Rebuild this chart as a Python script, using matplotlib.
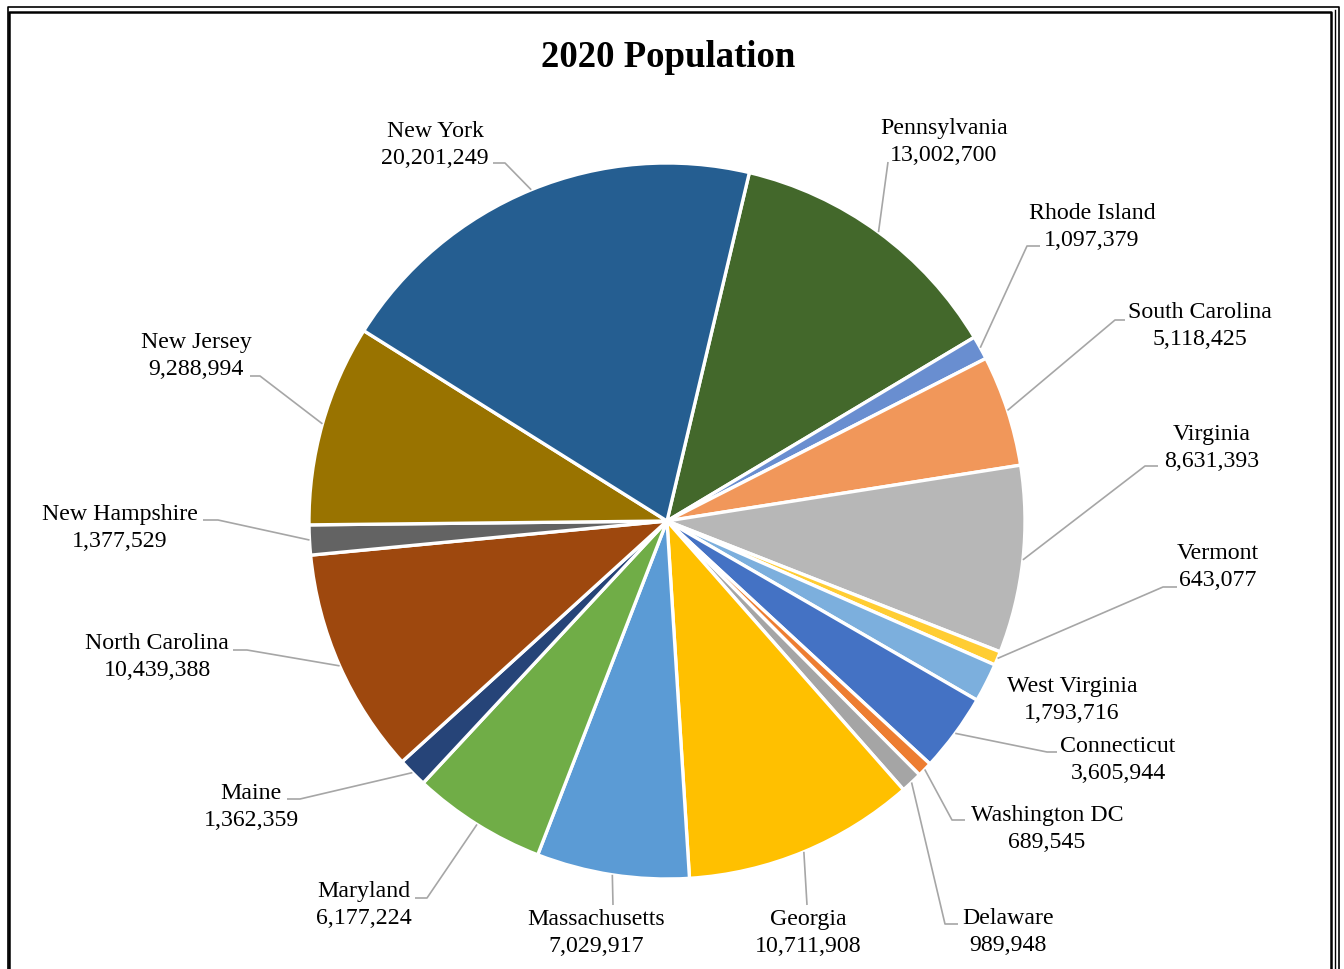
import numpy as np
import matplotlib
matplotlib.use("Agg")
import matplotlib.pyplot as plt

# data, in clockwise order starting just right of 12 o'clock
states = ["Pennsylvania", "Rhode Island", "South Carolina", "Virginia", "Vermont",
          "West Virginia", "Connecticut", "Washington DC", "Delaware", "Georgia",
          "Massachusetts", "Maryland", "Maine", "North Carolina", "New Hampshire",
          "New Jersey", "New York"]
population = [13002700, 1097379, 5118425, 8631393, 643077,
              1793716, 3605944, 689545, 989948, 10711908,
              7029917, 6177224, 1362359, 10439388, 1377529,
              9288994, 20201249]
colors = ["#43682B", "#698ED0", "#F1975A", "#B7B7B7", "#FFCD33",
          "#7CAFDD", "#4472C4", "#ED7D31", "#A5A5A5", "#FFC000",
          "#5B9BD5", "#70AD47", "#264478", "#9E480E", "#636363",
          "#997300", "#255E91"]

# label layout in pixel coords (y measured from top): text centre, leader elbow, leader end
label_pos = [(944, 142), (1092, 227), (1200, 326), (1212, 448), (1218, 567),
             (1072, 700), (1118, 760), (1047, 829), (1008, 932), (808, 933),
             (596, 933), (364, 905), (251, 807), (157, 657), (120, 528),
             (196, 356), (435, 145)]
elbows = [(888, 162), (1027, 246), (1115, 320), (1145, 466), (1163, 587),
          None, (1047, 752), (952, 820), (945, 924), (807, 905),
          (613, 905), (427, 898), (300, 799), (247, 650), (218, 520),
          (260, 376), (505, 163)]
ends = [(888, 162), (1040, 246), (1125, 320), (1158, 466), (1177, 587),
        None, (1057, 752), (965, 820), (958, 924), (807, 905),
        (613, 905), (415, 898), (287, 799), (233, 650), (203, 520),
        (250, 376), (493, 163)]

W, H = 1344, 969
FONT = ["Liberation Serif", "DejaVu Serif"]

fig = plt.figure(figsize=(W / 100, H / 100), dpi=100)
ax = fig.add_axes([0, 0, 1, 1])


def fy(y):
    return H - y


cx, cy, R = 667, fy(521), 358
start = 90 - 13.3
wedges, _ = ax.pie(population, colors=colors, startangle=start, counterclock=False,
                   center=(cx, cy), radius=R,
                   wedgeprops=dict(edgecolor="white", linewidth=2.4))

for i, w in enumerate(wedges):
    mid = np.deg2rad((w.theta1 + w.theta2) / 2)
    x0, y0 = cx + R * np.cos(mid), cy + R * np.sin(mid)
    if elbows[i] is not None:
        ex, ey = elbows[i]
        tx, ty = ends[i]
        ax.plot([x0, ex, tx], [y0, fy(ey), fy(ty)], color="#A6A6A6", lw=1.2,
                solid_capstyle="butt", zorder=1)
    lx, ly = label_pos[i]
    ax.text(lx, fy(ly), f"{states[i]}\n{population[i]:,}", ha="center", va="center",
            fontsize=17.2, family=FONT, linespacing=1.41, color="black")

ax.text(W / 2 - 4, fy(57), "2020 Population", ha="center", va="center",
        fontsize=26.5, fontweight="bold", family=FONT, color="black")

# frame around the chart
ax.plot([7.5, 7.5, 1338.5, 1338.5], [0, fy(6.5), fy(6.5), 0], color="black", lw=1.2)
ax.plot([1335, 1335], [0, fy(9.5)], color="black", lw=1.0)
ax.plot([8.5, 8.5, 1331, 1331], [0, fy(12), fy(12), 0], color="black", lw=1.8)

ax.set_xlim(0, W)
ax.set_ylim(0, H)
ax.set_aspect("equal")
ax.axis("off")

fig.savefig("out.png", dpi=100)
